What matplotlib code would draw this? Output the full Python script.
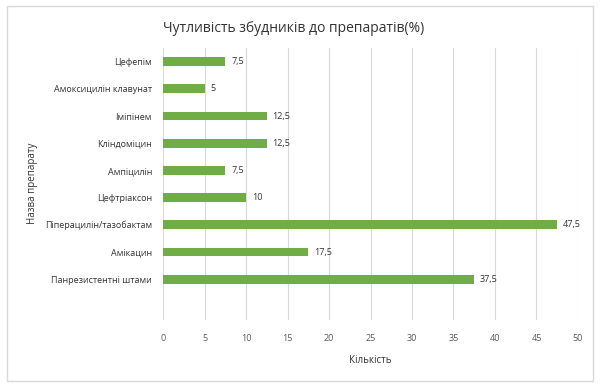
import matplotlib
matplotlib.use("Agg")
import matplotlib.pyplot as plt
from matplotlib.patches import Rectangle

plt.rcParams['font.family'] = ['Open Sans', 'DejaVu Sans']

categories = ["Цефепім", "Амоксицилін клавунат", "Іміпінем", "Кліндоміцин",
              "Ампіцилін", "Цефтріаксон", "Піперацилін/тазобактам", "Амікацин",
              "Панрезистентні штами"]
values = [7.5, 5, 12.5, 12.5, 7.5, 10, 47.5, 17.5, 37.5]
value_labels = ["7,5", "5", "12,5", "12,5", "7,5", "10", "47,5", "17,5", "37,5"]
xticks = [0, 5, 10, 15, 20, 25, 30, 35, 40, 45, 50]

fig = plt.figure(figsize=(6, 3.86), dpi=100)
fig.patches.append(Rectangle((0.011, 0.013), 0.977, 0.972, transform=fig.transFigure,
                             fill=False, edgecolor='#d9d9d9', linewidth=1))
ax = fig.add_axes([0.2717, 0.171, 0.6916, 0.7046])

n = len(categories)
ypos = list(range(n))
ax.barh(ypos, values, height=0.33, color='#70AD47', zorder=3)
for y, v, lab in zip(ypos, values, value_labels):
    ax.text(v + 0.7, y, lab, va='center', ha='left', fontsize=6.5, color='#333333')

ax.set_ylim(n + 0.5, -0.5)
ax.set_xlim(0, 50)
ax.set_yticks(ypos)
ax.set_yticklabels(categories, fontsize=6.5, color='#333333')
ax.set_xticks(xticks)
ax.set_xticklabels([str(t) for t in xticks], fontsize=6.5, color='#595959')
ax.tick_params(length=0)
ax.tick_params(axis='y', pad=8)
ax.tick_params(axis='x', pad=10)
ax.grid(axis='x', color='#d9d9d9', linewidth=0.8, zorder=0)
for s in ax.spines.values():
    s.set_visible(False)

ax.set_xlabel("Кількість", fontsize=7, color='#333333', labelpad=9)
fig.text(0.055, 0.525, "Назва препарату", rotation=90, ha='center', va='center',
         fontsize=7, color='#333333')
fig.text(0.49, 0.925, "Чутливість збудників до препаратів(%)", ha='center', va='center',
         fontsize=10, color='#333333')

fig.savefig("out.png", dpi=100)
